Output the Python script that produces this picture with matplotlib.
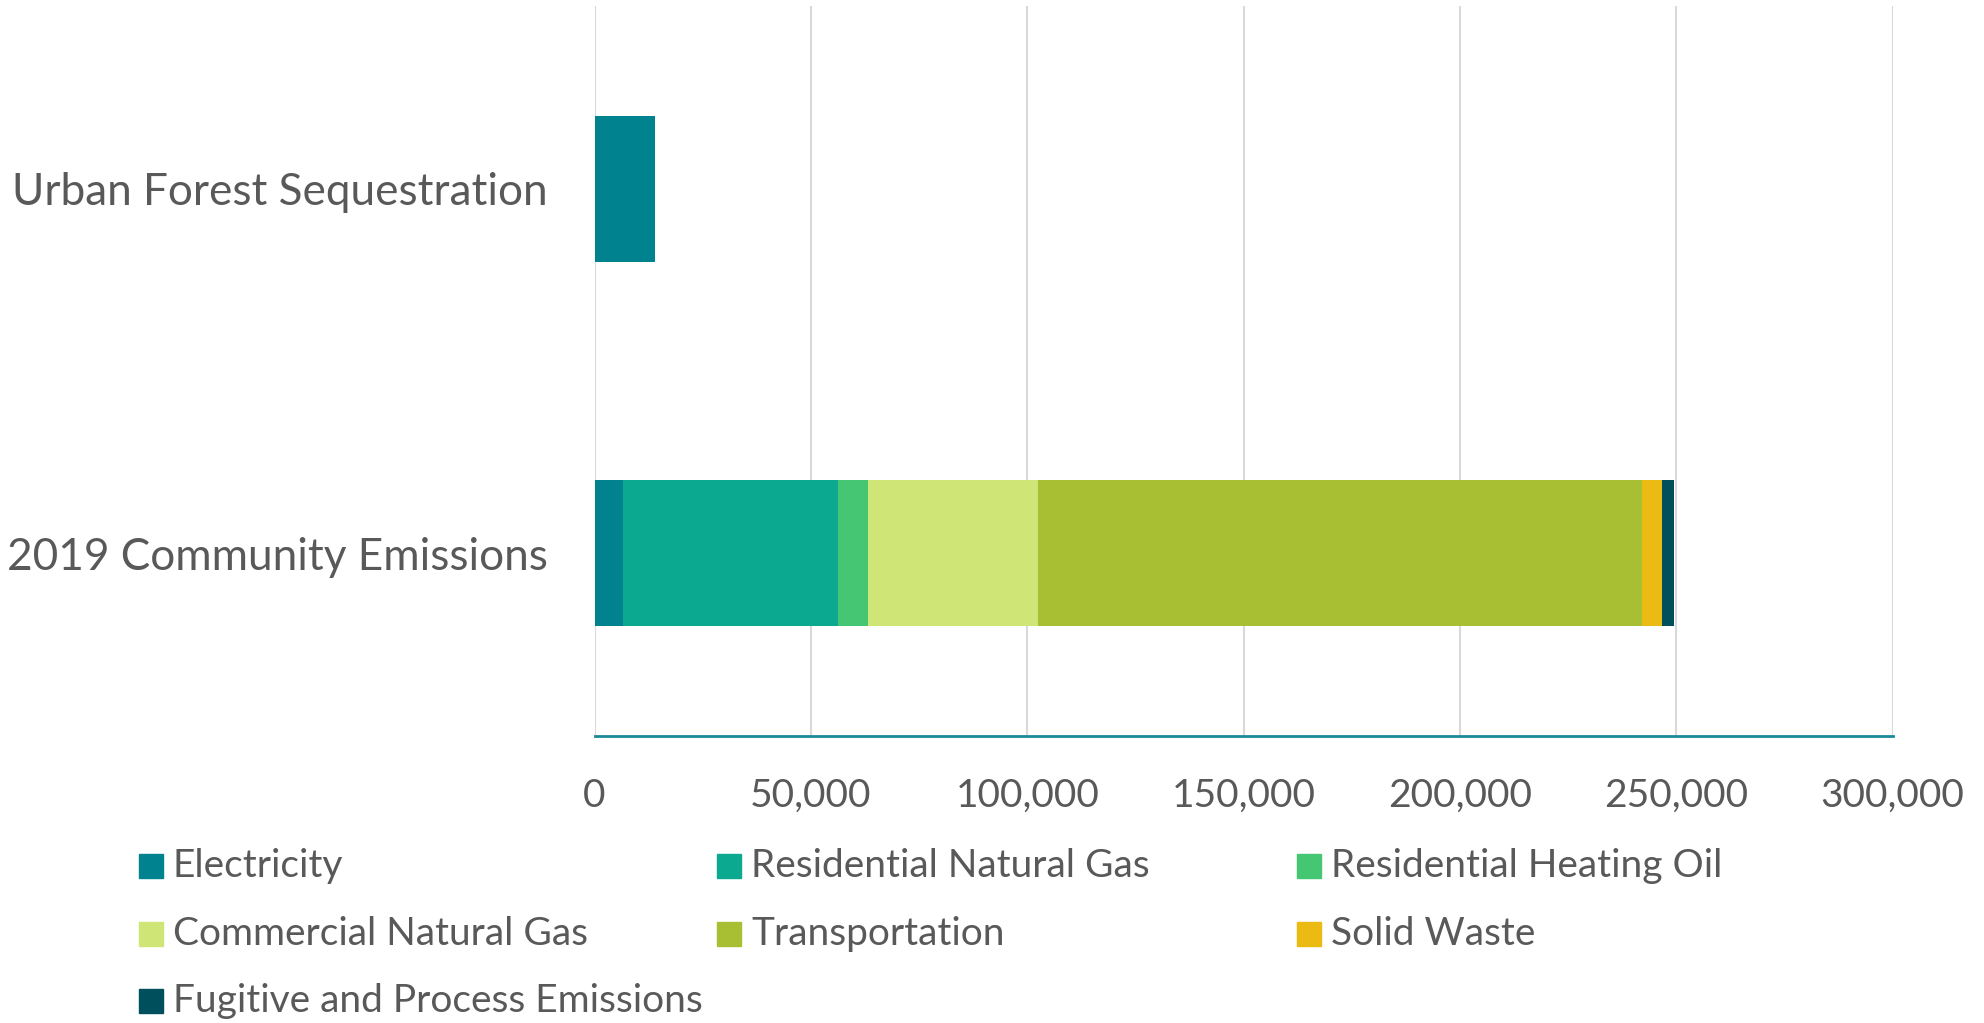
import matplotlib
matplotlib.use("Agg")
import matplotlib.pyplot as plt
from matplotlib.patches import Rectangle
from matplotlib.ticker import FuncFormatter

plt.rcParams['font.family'] = ['Lato', 'DejaVu Sans']

categories = ["2019 Community Emissions", "Urban Forest Sequestration"]
series_names = ["Electricity", "Residential Natural Gas", "Residential Heating Oil",
                "Commercial Natural Gas", "Transportation", "Solid Waste",
                "Fugitive and Process Emissions"]
series_colors = ["#00838F", "#0BA990", "#45C673", "#CFE677", "#A9BF33", "#EBBB14", "#004F5C"]
# values per series: [2019 Community Emissions, Urban Forest Sequestration]
electricity = [6500, 13900]
res_nat_gas = [49700, 0]
res_heat_oil = [6900, 0]
com_nat_gas = [39300, 0]
transportation = [139700, 0]
solid_waste = [4700, 0]
fugitive = [2600, 0]
series_values = [electricity, res_nat_gas, res_heat_oil, com_nat_gas,
                 transportation, solid_waste, fugitive]
x_ticks = [0, 50000, 100000, 150000, 200000, 250000, 300000]

TEXT = "#595959"
fig = plt.figure(figsize=(19.84, 10.23), dpi=100)
ax = fig.add_axes([0.2997, 0.2806, 0.9539 - 0.2997, 0.9941 - 0.2806])

ypos = list(range(len(categories)))
left = [0, 0]
for name, vals, col in zip(series_names, series_values, series_colors):
    ax.barh(ypos, vals, left=left, height=0.40, color=col, label=name, zorder=3)
    left = [l + v for l, v in zip(left, vals)]

ax.set_xlim(0, 300000)
ax.set_ylim(-0.5, 1.5)
ax.set_xticks(x_ticks)
ax.xaxis.set_major_formatter(FuncFormatter(lambda v, p: f"{int(v):,}"))
ax.set_yticks(ypos)
ax.set_yticklabels(categories)
ax.tick_params(axis='both', length=0, colors=TEXT)
ax.tick_params(axis='x', pad=30, labelsize=28)
ax.tick_params(axis='y', pad=33.5, labelsize=31.8)
ax.grid(axis='x', color="#D9D9D9", linewidth=1.5, zorder=0)
for s in ['top', 'right', 'left']:
    ax.spines[s].set_visible(False)
ax.spines['bottom'].set_color("#1A8A9A")
ax.spines['bottom'].set_linewidth(2)

# legend (row-major, 3 columns)
col_x = [139, 717, 1297]
row_y = [866, 934, 1001]
W, H = 1984, 1023
sq = 24
for i, (name, col) in enumerate(zip(series_names, series_colors)):
    r, c = divmod(i, 3)
    x0 = col_x[c]
    yc = row_y[r]
    fig.add_artist(Rectangle((x0 / W, 1 - (yc + sq / 2) / H), sq / W, sq / H,
                             transform=fig.transFigure, color=col))
    fig.text((x0 + 34) / W, 1 - yc / H, name, color=TEXT, fontsize=28,
             va='center', ha='left')

fig.savefig("out.png", dpi=100, facecolor="white")
